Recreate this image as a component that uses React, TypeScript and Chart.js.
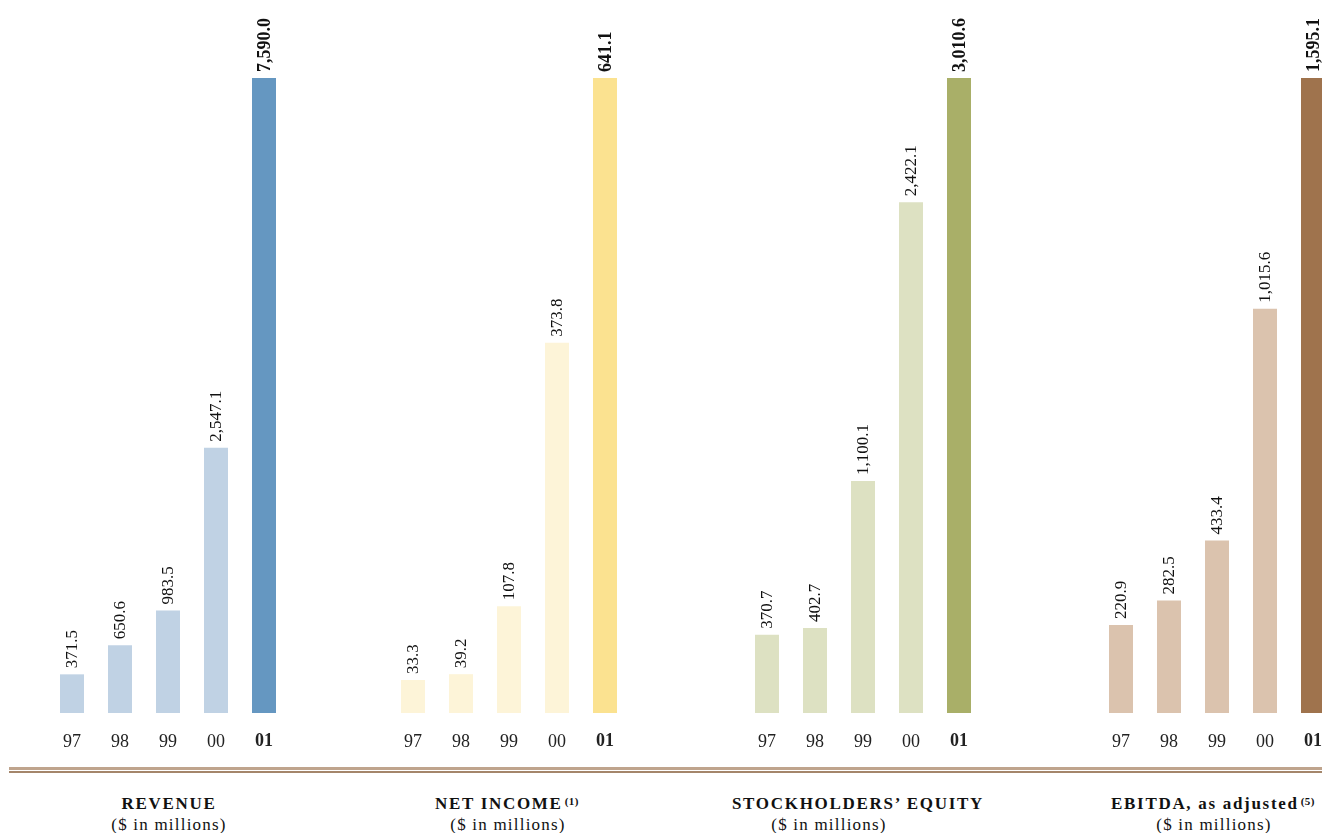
import React, { useEffect, useRef } from "react";
import { Chart, registerables } from "chart.js";

Chart.register(...registerables);

const years = ["97", "98", "99", "00", "01"];
const revenue = [371.5, 650.6, 983.5, 2547.1, 7590.0];
const netIncome = [33.3, 39.2, 107.8, 373.8, 641.1];
const equity = [370.7, 402.7, 1100.1, 2422.1, 3010.6];
const ebitda = [220.9, 282.5, 433.4, 1015.6, 1595.1];

// axis maxima (revenue's 2001 bar runs off the top of the scale in the original)
const axisMax = [6100, 641.1, 3010.6, 1595.1];

const panels = [
  { key: "rev", values: revenue, light: "#c0d2e4", dark: "#6597c1", left: 48, max: axisMax[0] },
  { key: "ni", values: netIncome, light: "#fdf4d8", dark: "#fbe290", left: 389, max: axisMax[1] },
  { key: "eq", values: equity, light: "#dde1c2", dark: "#a9af68", left: 743, max: axisMax[2] },
  { key: "eb", values: ebitda, light: "#dbc3ae", dark: "#9f734d", left: 1097, max: axisMax[3] },
];

const titles = [
  { text: "REVENUE", sup: "", sub: "($ in millions)", cx: 169, subCx: 169 },
  { text: "NET INCOME", sup: "(1)", sub: "($ in millions)", cx: 507, subCx: 508 },
  { text: "STOCKHOLDERS\u2019 EQUITY", sup: "", sub: "($ in millions)", cx: 858, subCx: 829 },
  { text: "EBITDA, as adjusted", sup: "(5)", sub: "($ in millions)", cx: 1213, subCx: 1214 },
];

const FONT = "'Liberation Serif', 'Times New Roman', serif";

const valueLabels = {
  id: "valueLabels",
  afterDatasetsDraw(chart: any) {
    const ctx = chart.ctx;
    const area = chart.chartArea;
    const meta = chart.getDatasetMeta(0);
    const data = chart.data.datasets[0].data as number[];
    meta.data.forEach((bar: any, i: number) => {
      const last = i === data.length - 1;
      const top = Math.max(bar.y, area.top);
      const txt = data[i].toLocaleString("en-US", { minimumFractionDigits: 1, maximumFractionDigits: 1 });
      ctx.save();
      ctx.translate(bar.x, top - 6);
      ctx.rotate(-Math.PI / 2);
      ctx.textAlign = "left";
      ctx.textBaseline = "middle";
      ctx.fillStyle = "#111";
      ctx.font = (last ? "bold 18px " : "17px ") + FONT;
      ctx.fillText(txt, 0, 1);
      ctx.restore();
    });
  },
};

function Panel({ values, light, dark, left, max }: any) {
  const ref = useRef<HTMLCanvasElement>(null);
  useEffect(() => {
    if (!ref.current) return;
    const chart = new Chart(ref.current, {
      type: "bar",
      data: {
        labels: years,
        datasets: [
          {
            data: values,
            backgroundColor: values.map((_: number, i: number) => (i === values.length - 1 ? dark : light)),
            barPercentage: 0.5,
            categoryPercentage: 1,
            borderWidth: 0,
            clip: 0 as any,
          },
        ],
      },
      options: {
        animation: false,
        responsive: false,
        devicePixelRatio: 1,
        layout: { padding: { top: 78, bottom: 7, left: 0, right: 0 } },
        plugins: { legend: { display: false }, tooltip: { enabled: false }, title: { display: false } },
        scales: {
          x: {
            grid: { display: false, drawTicks: false },
            border: { display: false },
            ticks: {
              padding: 18,
              color: "#222",
              font: (c: any) => ({ family: FONT, size: 18, weight: c.index === 4 ? "bold" : "normal" }),
            },
            afterFit: (s: any) => {
              s.height = 40;
              s.paddingLeft = 0;
              s.paddingRight = 0;
            },
          },
          y: { display: false, min: 0, max },
        },
      },
      plugins: [valueLabels],
    });
    return () => chart.destroy();
  }, [values, light, dark, max]);
  return (
    <canvas
      ref={ref}
      width={240}
      height={760}
      style={{ position: "absolute", left, top: 0, width: 240, height: 760, display: "block" }}
    />
  );
}

export default function App() {
  return (
    <div
      style={{
        position: "fixed",
        left: 0,
        top: 0,
        width: 1322,
        height: 833,
        overflow: "hidden",
        background: "#fff",
        fontFamily: FONT,
        color: "#111",
      }}
    >
      {panels.map((p) => (
        <Panel key={p.key} {...p} />
      ))}
      <div style={{ position: "absolute", left: 9, top: 767, width: 1320, height: 3, background: "#bfa48d" }} />
      <div style={{ position: "absolute", left: 9, top: 771, width: 1320, height: 2, background: "#a4866b" }} />
      {titles.map((t) => (
        <React.Fragment key={t.text}>
          <div
            style={{
              position: "absolute",
              left: t.cx - 200,
              width: 400,
              top: 794,
              textAlign: "center",
              fontSize: 17,
              lineHeight: "20px",
              fontWeight: "bold",
              letterSpacing: 1.7,
              whiteSpace: "nowrap",
            }}
          >
            {t.text}
            {t.sup ? (
              <sup style={{ fontSize: 11, letterSpacing: 0.5, verticalAlign: "top", position: "relative", top: -3, marginLeft: 2 }}>
                {t.sup}
              </sup>
            ) : null}
          </div>
          <div
            style={{
              position: "absolute",
              left: t.subCx - 200,
              width: 400,
              top: 815,
              textAlign: "center",
              fontSize: 17,
              lineHeight: "20px",
              letterSpacing: 1.2,
              whiteSpace: "nowrap",
            }}
          >
            {t.sub}
          </div>
        </React.Fragment>
      ))}
    </div>
  );
}
